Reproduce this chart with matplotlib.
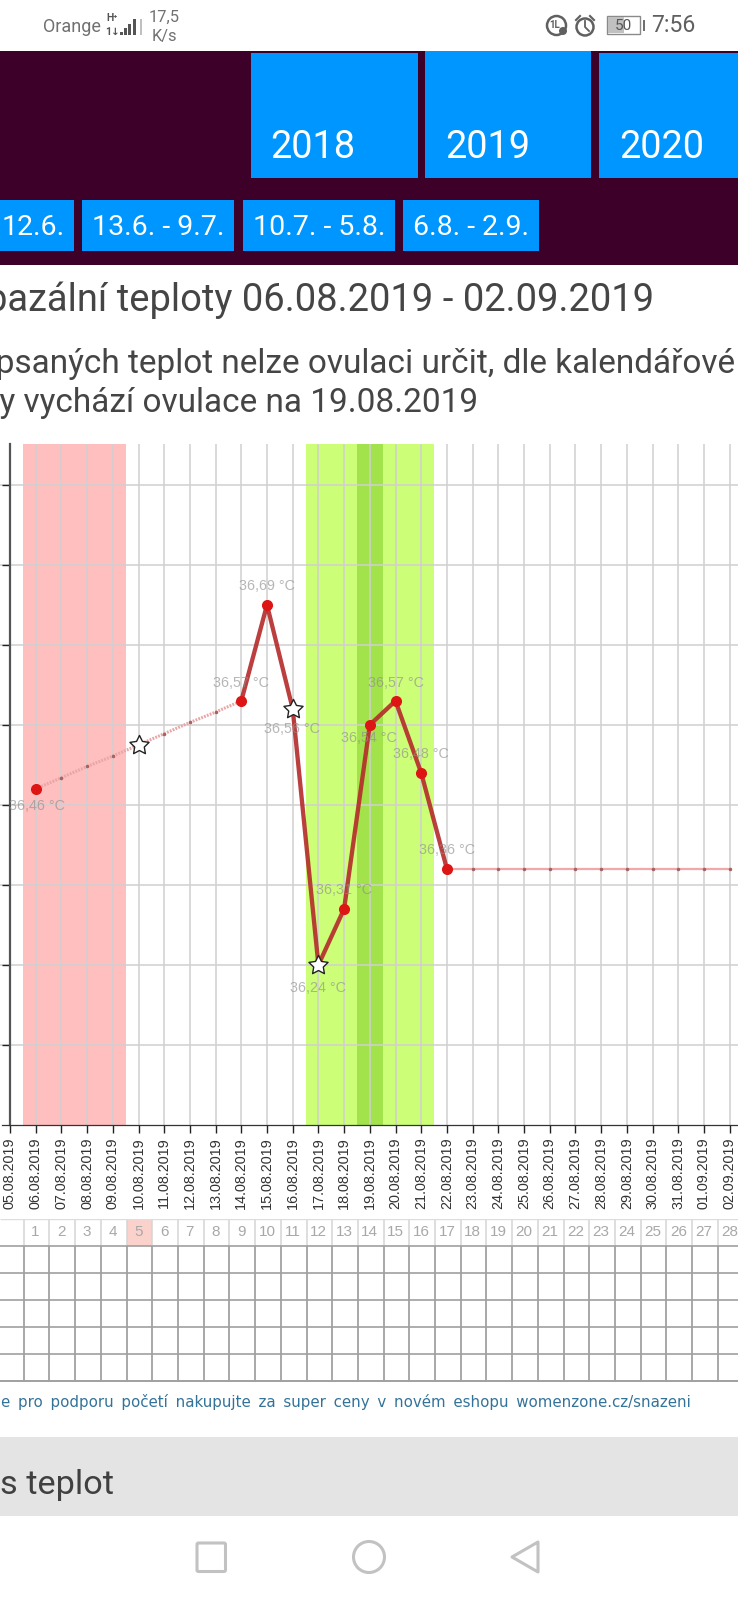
import matplotlib
matplotlib.use('Agg')
import matplotlib.pyplot as plt
from matplotlib.patches import Rectangle, Circle, Polygon, FancyBboxPatch
from matplotlib.path import Path

# chart data
dates = ['05.08.2019', '06.08.2019', '07.08.2019', '08.08.2019', '09.08.2019', '10.08.2019', '11.08.2019',
         '12.08.2019', '13.08.2019', '14.08.2019', '15.08.2019', '16.08.2019', '17.08.2019', '18.08.2019',
         '19.08.2019', '20.08.2019', '21.08.2019', '22.08.2019', '23.08.2019', '24.08.2019', '25.08.2019',
         '26.08.2019', '27.08.2019', '28.08.2019', '29.08.2019', '30.08.2019', '31.08.2019', '01.09.2019',
         '02.09.2019']
temps = [36.46, 36.474, 36.488, 36.501, 36.515, 36.529, 36.543, 36.556, 36.57, 36.69, 36.56, 36.24, 36.31,
         36.54, 36.57, 36.48, 36.36, 36.36, 36.36, 36.36, 36.36, 36.36, 36.36, 36.36, 36.36, 36.36, 36.36, 36.36]
measured = [1, 0, 0, 0, 1, 0, 0, 0, 1, 1, 1, 1, 1, 1, 1, 1, 1, 0, 0, 0, 0, 0, 0, 0, 0, 0, 0, 0]
stars = [4, 10, 11]
labelled = [0, 8, 9, 10, 11, 12, 13, 14, 15, 16]
label_dy = [-17, 18, 19, -20, -23, 19, -13, 18, 19, 19]
label_dx = [1, 0, 0, -1, 0, 0, -1, 0, 0, 0]
yticks = [36.14, 36.24, 36.34, 36.44, 36.54, 36.64, 36.74, 36.84]
cycle_days = list(range(1, 29))
period_day = 5
period_band = (0.5, 4.5)
fertile_band = (11.5, 16.5)
ovulation_band = (13.5, 14.5)

years = ['2018', '2019', '2020']
ranges = ['12.6.', '13.6. - 9.7.', '10.7. - 5.8.', '6.8. - 2.9.']
ad_words = ['e', 'pro', 'podporu', 'početí', 'nakupujte', 'za', 'super', 'ceny', 'v', 'novém', 'eshopu',
            'womenzone.cz/snazeni']

W, H = 738, 1600
plt.rcParams['font.family'] = ['Roboto', 'DejaVu Sans']

fig = plt.figure(figsize=(W / 100, H / 100), dpi=100, facecolor='white')


def px_axes(left, top, right, bottom):
    return fig.add_axes([left / W, 1 - bottom / H, (right - left) / W, (bottom - top) / H])


# page around the chart, in pixels
bg = fig.add_axes([0, 0, 1, 1])
bg.set_xlim(0, W)
bg.set_ylim(H, 0)
bg.axis('off')

PURPLE = '#3d0029'
BLUE = '#0096ff'
bg.add_patch(Rectangle((0, 51), W, 214, color=PURPLE, lw=0))
for x0, x1, y0, tx, year in zip([251, 424.5, 598.5], [417.5, 591, 738], [52.5, 51, 52.5], [270.5, 445, 619], years):
    bg.add_patch(Rectangle((x0, y0), x1 - x0, 178 - y0, color=BLUE, lw=0))
    bg.text(tx, 158, year, color='white', fontsize=27.3, ha='left', va='baseline')
for x0, x1, tx, r in zip([0, 82, 242.5, 403], [74, 234, 394.5, 538.5], [33, 158, 319, 471], ranges):
    bg.add_patch(Rectangle((x0, 200), x1 - x0, 50.5, color=BLUE, lw=0))
    bg.text(tx, 235, r, color='white', fontsize=20.5, ha='center', va='baseline')

DARK = '#454545'
bg.text(654, 311, 'bazální teploty 06.08.2019 - 02.09.2019', color=DARK, fontsize=27.45, ha='right', va='baseline')
bg.text(735, 373, 'zapsaných teplot nelze ovulaci určit, dle kalendářové', color=DARK, fontsize=24, ha='right', va='baseline')
bg.text(478, 412, 'metody vychází ovulace na 19.08.2019', color=DARK, fontsize=24, ha='right', va='baseline')

bg.text(691, 1402, ' \u2009'.join(ad_words), color='#33739a', fontsize=10.8, family='DejaVu Sans', ha='right', va='center')
bg.add_patch(Rectangle((0, 1437), W, 79, color='#e4e4e4', lw=0))
bg.text(0, 1494, 's teplot', color='#404040', fontsize=24.7, ha='left', va='baseline')

# status bar
GREY = '#707070'
bg.text(43, 27, 'Orange', color=GREY, fontsize=13, ha='left', va='center')
bg.text(112, 18, 'H⁺', color='#555555', fontsize=7.5, ha='center', va='center', fontweight='bold')
bg.text(112, 32, '1↓', color='#555555', fontsize=7.5, ha='center', va='center', fontweight='bold')
for x, h, c in zip([120, 124, 128, 133, 139.5], [3, 7, 11, 16, 16], ['#555555'] * 4 + ['#c0c0c0']):
    bg.add_patch(Rectangle((x, 35 - h), 2.6, h, color=c, lw=0))
bg.text(164, 17, '17,5', color=GREY, fontsize=11.8, ha='center', va='center')
bg.text(164, 36, 'K/s', color=GREY, fontsize=11.8, ha='center', va='center')
bg.add_patch(Circle((556.5, 25.5), 9.5, fill=False, ec='#606060', lw=1.8))
bg.text(555, 25, '1L', color='#606060', fontsize=7, ha='center', va='center', fontweight='bold')
bg.add_patch(Circle((563, 31), 4, color='#606060', lw=0))
bg.add_patch(Circle((585, 27), 8.5, fill=False, ec='#606060', lw=1.8))
bg.plot([585, 585, 589], [21, 27, 31], color='#606060', lw=1.3)
bg.plot([576, 580], [20, 16], color='#606060', lw=1.5)
bg.plot([590, 594], [16, 20], color='#606060', lw=1.5)
bg.add_patch(Rectangle((607, 16), 33, 18, fill=False, ec='#8a8a8a', lw=1))
bg.add_patch(Rectangle((608, 17), 16, 16, color='#c0c0c0', lw=0))
bg.add_patch(Rectangle((643, 20), 2.2, 11, color='#707070', lw=0))
bg.text(623, 25.5, '50', color='#555555', fontsize=11, ha='center', va='center')
bg.text(651, 26, '7:56', color='#606060', fontsize=16.6, ha='left', va='center')

# navigation bar
NAV = '#c2c2c2'
bg.add_patch(FancyBboxPatch((197, 1543), 28.5, 28.5, boxstyle='round,pad=0,rounding_size=1.5', fill=False, ec=NAV, lw=2.2))
bg.add_patch(Circle((369, 1557), 15.5, fill=False, ec=NAV, lw=2.2))
bg.add_patch(Polygon([(538, 1542), (538, 1572), (512, 1557)], closed=True, fill=False, ec=NAV, lw=2.2, joinstyle='round'))

# temperature chart, one day is 25.7 px and day 0 sits at x=10
ax = px_axes(0, 444, W, 1125)
ax.patch.set_alpha(0)
ax.set_xlim(-10 / 25.7, (W - 10) / 25.7)
ax.set_ylim(36.04, 36.891)
x_days = list(range(1, len(temps) + 1))

ax.axvspan(*period_band, color='#ffbfbf', lw=0)
ax.axvspan(*fertile_band, color='#ccff77', lw=0)
ax.axvspan(*ovulation_band, color='#a2e24a', lw=0)
ax.grid(True, color='#d0d0d0', lw=1.1)

for i in range(len(temps) - 1):
    xx = x_days[i:i + 2]
    yy = temps[i:i + 2]
    if measured[i] and measured[i + 1]:
        ax.plot(xx, yy, color='#b52a2a', lw=3.1, alpha=0.9, zorder=3, solid_capstyle='round')
    elif i < 8:
        ax.plot(xx, yy, color='#e8a6a6', lw=2.2, ls=(0, (0.6, 0.4)), zorder=3)
    else:
        ax.plot(xx, yy, color='#f0a8a8', lw=1.6, zorder=3)
ax.plot(x_days, temps, ls='none', marker='o', ms=1.5, color='#a86060', zorder=3.5)

dots = [i for i in range(len(temps)) if measured[i] and i not in stars]
ax.plot([x_days[i] for i in dots], [temps[i] for i in dots], ls='none', marker='o', ms=8, color='#dd1515', mew=0, zorder=4)
star = Path.unit_regular_star(5, innerCircle=0.5)
ax.plot([x_days[i] for i in stars], [temps[i] for i in stars], ls='none', marker=star, ms=14.5,
        mfc='white', mec='#222222', mew=1.0, zorder=5)

for i, dy, dx in zip(labelled, label_dy, label_dx):
    txt = ('%.2f' % temps[i]).replace('.', ',') + ' °C'
    ax.annotate(txt, (x_days[i], temps[i]), xytext=(dx * 0.72, dy * 0.72), textcoords='offset points',
                ha='center', va='center', color='#8f8f8f', alpha=0.65, fontsize=10.3,
                family='Liberation Sans', zorder=6)

ax.set_xticks(range(len(dates)))
ax.set_xticklabels(dates, rotation=90, family='Liberation Sans', fontsize=10.4, color='#333333')
ax.set_yticks(yticks)
ax.set_yticklabels([])
ax.tick_params(axis='x', length=5.8, width=1, color='#222222', pad=3)
ax.tick_params(axis='y', length=5.8, width=1, color='#222222')
for side in ['top', 'right']:
    ax.spines[side].set_visible(False)
ax.spines['left'].set_position(('data', 0))
ax.spines['left'].set_color('#555555')
ax.spines['left'].set_linewidth(1.6)
ax.spines['bottom'].set_color('#333333')
ax.spines['bottom'].set_linewidth(0.9)
ax.spines['bottom'].set_bounds(-8 / 25.7, (W - 10) / 25.7)

# cycle table under the chart, six rows with days as columns
tb = px_axes(0, 1219, W, 1381)
tb.patch.set_alpha(0)
tb.set_xlim(-23.7 / 25.71, (W - 23.7) / 25.71)
tb.set_ylim(6, 0)
tb.axis('off')
tb.add_patch(Rectangle((period_day - 1, 0), 1, 1, color='#fbd2cb', lw=0))
tb.vlines(range(len(cycle_days) + 1), 0, 1, color='#d4d4d4', lw=1.1)
tb.vlines(range(len(cycle_days) + 1), 1, 6, color='#9a9a9a', lw=1.2)
tb.hlines([1, 2, 3, 4, 5], tb.get_xlim()[0], tb.get_xlim()[1], color='#a0a0a0', lw=1.2)
tb.hlines(0, tb.get_xlim()[0], tb.get_xlim()[1], color='#dddddd', lw=1)
tb.plot(tb.get_xlim(), [6, 6], color='#a0a0a0', lw=1.4, clip_on=False)
for d in cycle_days:
    tb.text(d - 0.54, 0.5, str(d), ha='center', va='center', color='#a8a8a8', fontsize=11, family='Liberation Sans')

fig.savefig('out.png', dpi=100)
